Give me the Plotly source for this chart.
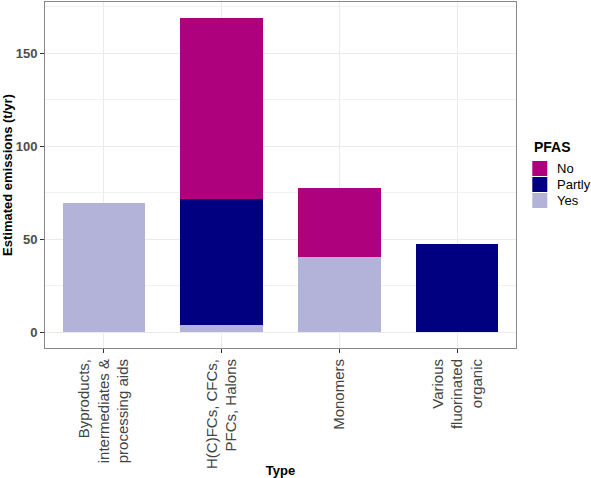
import plotly.graph_objects as go

categories = ["Byproducts,<br>intermediates &<br>processing aids",
              "H(C)FCs, CFCs,<br>PFCs, Halons",
              "Monomers",
              "Various<br>fluorinated<br>organic"]
yes_vals = [69.4, 4.1, 40.4, 0]
partly_vals = [0, 67.4, 0, 47.4]
no_vals = [0, 97.5, 37.0, 0]
y_ticks = [0, 50, 100, 150]
legend_labels = ["No", "Partly", "Yes"]

colors = {"Yes": "#B3B3D9", "Partly": "#000080", "No": "#AE017E"}

W, H = 591, 478
ML, MR, MT, MB = 45, 75, 2, 130
PW, PH = W - ML - MR, H - MT - MB


def px(x):
    return (x - ML) / PW


def py(y):
    return (H - MB - y) / PH


fig = go.Figure()
for name, vals in [("Yes", yes_vals), ("Partly", partly_vals), ("No", no_vals)]:
    fig.add_trace(go.Bar(x=categories, y=vals, name=name, showlegend=False,
                         marker=dict(color=colors[name], line=dict(width=0))))

font_family = "Liberation Sans, Arial, sans-serif"

shapes = []
annotations = [dict(text="<b>PFAS</b>", xref="paper", yref="paper", x=px(531.5), y=py(147),
                    xanchor="left", yanchor="middle", showarrow=False,
                    font=dict(size=14, color="#000"))]
for i, lab in enumerate(legend_labels):
    top = 161 + i * 16
    shapes.append(dict(type="rect", xref="paper", yref="paper",
                       x0=px(532.3), x1=px(547.3), y0=py(top + 15), y1=py(top),
                       fillcolor=colors[lab], line=dict(width=0)))
    annotations.append(dict(text=lab, xref="paper", yref="paper", x=px(554.5), y=py(top + 7.5),
                            xanchor="left", yanchor="middle", showarrow=False,
                            font=dict(size=13, color="#000")))

fig.update_layout(
    width=W, height=H,
    barmode="stack", bargap=0.3,
    margin=dict(l=ML, r=MR, t=MT, b=MB, autoexpand=False),
    plot_bgcolor="white", paper_bgcolor="white",
    font=dict(family=font_family, color="#000000"),
    showlegend=False,
    shapes=shapes, annotations=annotations,
    xaxis=dict(
        tickangle=-90, tickfont=dict(size=15, color="#444444"),
        showline=True, mirror=True, linecolor="#888888", linewidth=1,
        ticks="outside", ticklen=4, tickcolor="#333333",
        showgrid=True, gridcolor="#EBEBEB", gridwidth=1,
        title=dict(text="<b>Type</b>", font=dict(size=13, color="#000"), standoff=8),
        automargin=False,
    ),
    yaxis=dict(
        range=[-8.5, 177.5], tickvals=y_ticks,
        tickfont=dict(size=13, color="#4D4D4D", weight="bold"),
        showline=True, mirror=True, linecolor="#888888", linewidth=1,
        ticks="outside", ticklen=4, tickcolor="#333333",
        showgrid=True, gridcolor="#EBEBEB", gridwidth=1, zeroline=False,
        minor=dict(dtick=25, tick0=0, showgrid=True, gridcolor="#F2F2F2", gridwidth=0.8),
        title=dict(text="<b>Estimated emissions (t/yr)</b>", font=dict(size=13, color="#000"), standoff=6),
        automargin=False,
    ),
)

fig.write_html("out.html", config={"displayModeBar": False},
               post_script="document.body.style.margin='0';")
